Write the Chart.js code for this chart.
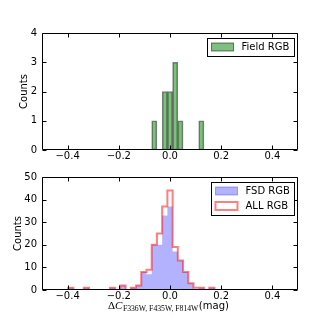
<!DOCTYPE html>
<html>
<head>
<meta charset="utf-8">
<script src="https://cdn.jsdelivr.net/npm/chart.js@4.4.0/dist/chart.umd.min.js"></script>
<style>
  html, body { margin: 0; padding: 0; background: #fff; }
  #wrap { position: relative; width: 332px; height: 332px; }
  canvas { position: absolute; left: 0; }
</style>
</head>
<body>
<div id="wrap">
  <canvas id="fieldChart" width="332" height="166" style="top:0"></canvas>
  <canvas id="allChart" width="332" height="166" style="top:166px"></canvas>
</div>
<script>
// histogram binning used by both panels: 49 equal bins over the plotted range
const binMin = -0.5;
const binMax = 0.5;

const xTicks = [-0.4, -0.2, 0.0, 0.2, 0.4];
const fieldYTicks = [0, 1, 2, 3, 4];
const allYTicks = [0, 10, 20, 30, 40, 50];

// counts per bin (49 bins, left to right)
const fieldCounts = [
  0, 0, 0, 0, 0, 0, 0,
  0, 0, 0, 0, 0, 0, 0,
  0, 0, 0, 0, 0, 0, 0,
  1, 0, 2, 2, 3, 1, 0,
  0, 0, 1, 0, 0, 0, 0,
  0, 0, 0, 0, 0, 0, 0,
  0, 0, 0, 0, 0, 0, 0
];
const fsdCounts = [
  0, 0, 0, 0, 0, 0, 1,
  0, 0, 1, 0, 0, 0, 0,
  1, 0, 2, 0, 1, 2, 8,
  7, 20, 20, 33, 37, 17, 13,
  8, 3, 0, 1, 0, 1, 0,
  0, 0, 0, 0, 0, 0, 0,
  0, 0, 0, 0, 0, 0, 0
];
const allCounts = [
  0, 0, 0, 0, 0, 0, 1,
  0, 0, 1, 0, 0, 0, 0,
  1, 0, 2, 0, 1, 2, 8,
  9, 20, 25, 37, 44, 19, 13,
  8, 3, 1, 1, 0, 1, 0,
  0, 0, 0, 0, 0, 0, 0,
  0, 0, 0, 0, 0, 0, 0
];

const binWidth = (binMax - binMin) / fieldCounts.length;

// bar centres for the top panel (empty bins are skipped)
function barPoints(counts) {
  return counts
    .map((c, i) => ({ x: binMin + (i + 0.5) * binWidth, y: c }))
    .filter(p => p.y > 0);
}

// bin edges with the count of the bin to their right, for stepped lines
function stepPoints(counts) {
  const pts = counts.map((c, i) => ({ x: binMin + i * binWidth, y: c }));
  pts.push({ x: binMax, y: 0 });
  return pts;
}

const FONT = '"DejaVu Sans", sans-serif';

// legend entries per canvas (kept out of the option resolver)
const legendItems = {
  fieldChart: [
    { label: 'Field RGB', fill: 'rgba(0,128,0,0.5)', stroke: 'rgba(0,0,0,0.5)', lw: 1 }
  ],
  allChart: [
    { label: 'FSD RGB', fill: 'rgba(0,0,255,0.3)', stroke: 'rgba(0,0,255,0.3)', lw: 1 },
    { label: 'ALL RGB', fill: null, stroke: 'rgba(255,0,0,0.5)', lw: 2 }
  ]
};

function fmtTick(v) {
  const s = Math.abs(v).toFixed(1);
  return v < -1e-9 ? '\u2212' + s : s;
}

// matplotlib-like frame with inward ticks on all four sides
const framePlugin = {
  id: 'mplFrame',
  afterDatasetsDraw(chart) {
    const { ctx, chartArea: a, scales } = chart;
    const L = Math.round(a.left) + 0.5, R = Math.round(a.right) - 0.5;
    const T = Math.round(a.top) + 0.5, B = Math.round(a.bottom) - 0.5;
    const tl = 4;
    ctx.save();
    ctx.strokeStyle = '#000';
    ctx.lineWidth = 1;
    ctx.beginPath();
    ctx.rect(L, T, R - L, B - T);
    scales.x.ticks.forEach(t => {
      const px = Math.round(scales.x.getPixelForValue(t.value)) + 0.5;
      ctx.moveTo(px, B); ctx.lineTo(px, B - tl);
      ctx.moveTo(px, T); ctx.lineTo(px, T + tl);
    });
    scales.y.ticks.forEach(t => {
      const py = Math.round(scales.y.getPixelForValue(t.value)) + 0.5;
      ctx.moveTo(L, py); ctx.lineTo(L + tl, py);
      ctx.moveTo(R, py); ctx.lineTo(R - tl, py);
    });
    ctx.stroke();
    ctx.restore();
  }
};

// boxed legend in the upper right corner of the plot area
const legendPlugin = {
  id: 'mplLegend',
  afterDraw(chart) {
    const items = legendItems[chart.canvas.id] || [];
    if (!items.length) return;
    const { ctx, chartArea: a } = chart;
    ctx.save();
    ctx.font = '10px ' + FONT;
    const textW = Math.max(...items.map(it => ctx.measureText(it.label).width));
    const w = Math.round(4 + 22 + 8 + textW + 5);
    const h = Math.round(18 + 15.3 * (items.length - 1));
    const x0 = Math.round(a.right - 4 - w) + 0.5;
    const y0 = Math.round(a.top + 5) + 0.5;
    ctx.fillStyle = '#fff';
    ctx.fillRect(x0, y0, w, h);
    ctx.strokeStyle = '#000';
    ctx.lineWidth = 1;
    ctx.strokeRect(x0, y0, w, h);
    items.forEach((it, i) => {
      const cy = y0 + 8.5 + 15.3 * i;
      const sx = x0 + 4, sy = Math.round(cy - 4);
      if (it.fill) {
        ctx.fillStyle = it.fill;
        ctx.fillRect(sx, sy, 22, 8);
      }
      ctx.strokeStyle = it.stroke;
      ctx.lineWidth = it.lw;
      ctx.strokeRect(sx, sy, 22, 8);
      ctx.fillStyle = '#000';
      ctx.textBaseline = 'middle';
      ctx.fillText(it.label, sx + 22 + 8, cy);
    });
    ctx.restore();
  }
};

// x-axis label with the math-style colour index
const xTitlePlugin = {
  id: 'mathXTitle',
  afterDraw(chart) {
    if (chart.canvas.id !== 'allChart') return;
    const { ctx } = chart;
    let x = 108;
    const y = 143;
    ctx.save();
    ctx.fillStyle = '#000';
    ctx.textBaseline = 'alphabetic';
    ctx.font = '11px "Liberation Serif", serif';
    ctx.fillText('\u0394', x, y);
    x += ctx.measureText('\u0394').width;
    ctx.font = 'italic 11px "Liberation Serif", serif';
    ctx.fillText('C', x, y);
    x += ctx.measureText('C').width + 0.5;
    ctx.font = '7.7px "Liberation Serif", serif';
    ctx.fillText('F336W, F435W, F814W', x, y + 2);
    x += ctx.measureText('F336W, F435W, F814W').width + 0.5;
    ctx.font = '10px ' + FONT;
    ctx.fillText('(mag)', x, y);
    ctx.restore();
  }
};

function axes(yTicks, yMax, titlePad, xHeight) {
  return {
    x: {
      type: 'linear',
      min: binMin,
      max: binMax,
      offset: false,
      grid: { display: false, drawTicks: false, offset: false },
      border: { display: false },
      afterBuildTicks: s => { s.ticks = xTicks.map(v => ({ value: v })); },
      afterFit: s => { s.height = xHeight; },
      ticks: {
        autoSkip: false, maxRotation: 0, padding: 0,
        color: '#000', font: { family: FONT, size: 10 },
        callback: v => fmtTick(v)
      }
    },
    y: {
      min: 0,
      max: yMax,
      grid: { display: false, drawTicks: false },
      border: { display: false },
      afterBuildTicks: s => { s.ticks = yTicks.map(v => ({ value: v })); },
      afterFit: s => { s.width = 42; },
      ticks: {
        padding: 5, color: '#000', font: { family: FONT, size: 10 },
        callback: v => String(v)
      },
      title: {
        display: true, text: 'Counts', color: '#000',
        font: { family: FONT, size: 10 },
        padding: { top: titlePad, bottom: 0 }
      }
    }
  };
}

const common = {
  responsive: false,
  animation: false,
  devicePixelRatio: 1,
  events: []
};

new Chart(document.getElementById('fieldChart'), {
  type: 'bar',
  data: {
    datasets: [{
      label: 'Field RGB',
      data: barPoints(fieldCounts),
      backgroundColor: 'rgba(0,128,0,0.5)',
      borderColor: 'rgba(0,0,0,0.5)',
      borderWidth: 1,
      borderSkipped: false,
      barPercentage: 1,
      categoryPercentage: 1
    }]
  },
  options: Object.assign({}, common, {
    layout: { padding: { top: 33, right: 34, left: 0, bottom: 0 } },
    scales: axes(fieldYTicks, 4, 18, 16),
    plugins: { legend: { display: false }, tooltip: { enabled: false } }
  }),
  plugins: [framePlugin, legendPlugin]
});

new Chart(document.getElementById('allChart'), {
  type: 'line',
  data: {
    datasets: [{
      label: 'ALL RGB',
      data: stepPoints(allCounts),
      stepped: 'after',
      borderColor: 'rgba(255,0,0,0.5)',
      borderWidth: 2,
      pointRadius: 0,
      fill: false,
      order: 0
    }, {
      label: 'FSD RGB',
      data: stepPoints(fsdCounts),
      stepped: 'after',
      borderColor: 'rgba(0,0,255,0.3)',
      borderWidth: 0,
      backgroundColor: 'rgba(0,0,255,0.3)',
      pointRadius: 0,
      fill: 'origin',
      order: 1
    }]
  },
  options: Object.assign({}, common, {
    layout: { padding: { top: 7, right: 34, left: 0, bottom: 0 } },
    scales: axes(allYTicks, 50, 12, 42),
    plugins: { legend: { display: false }, tooltip: { enabled: false } }
  }),
  plugins: [framePlugin, legendPlugin, xTitlePlugin]
});
</script>
</body>
</html>
